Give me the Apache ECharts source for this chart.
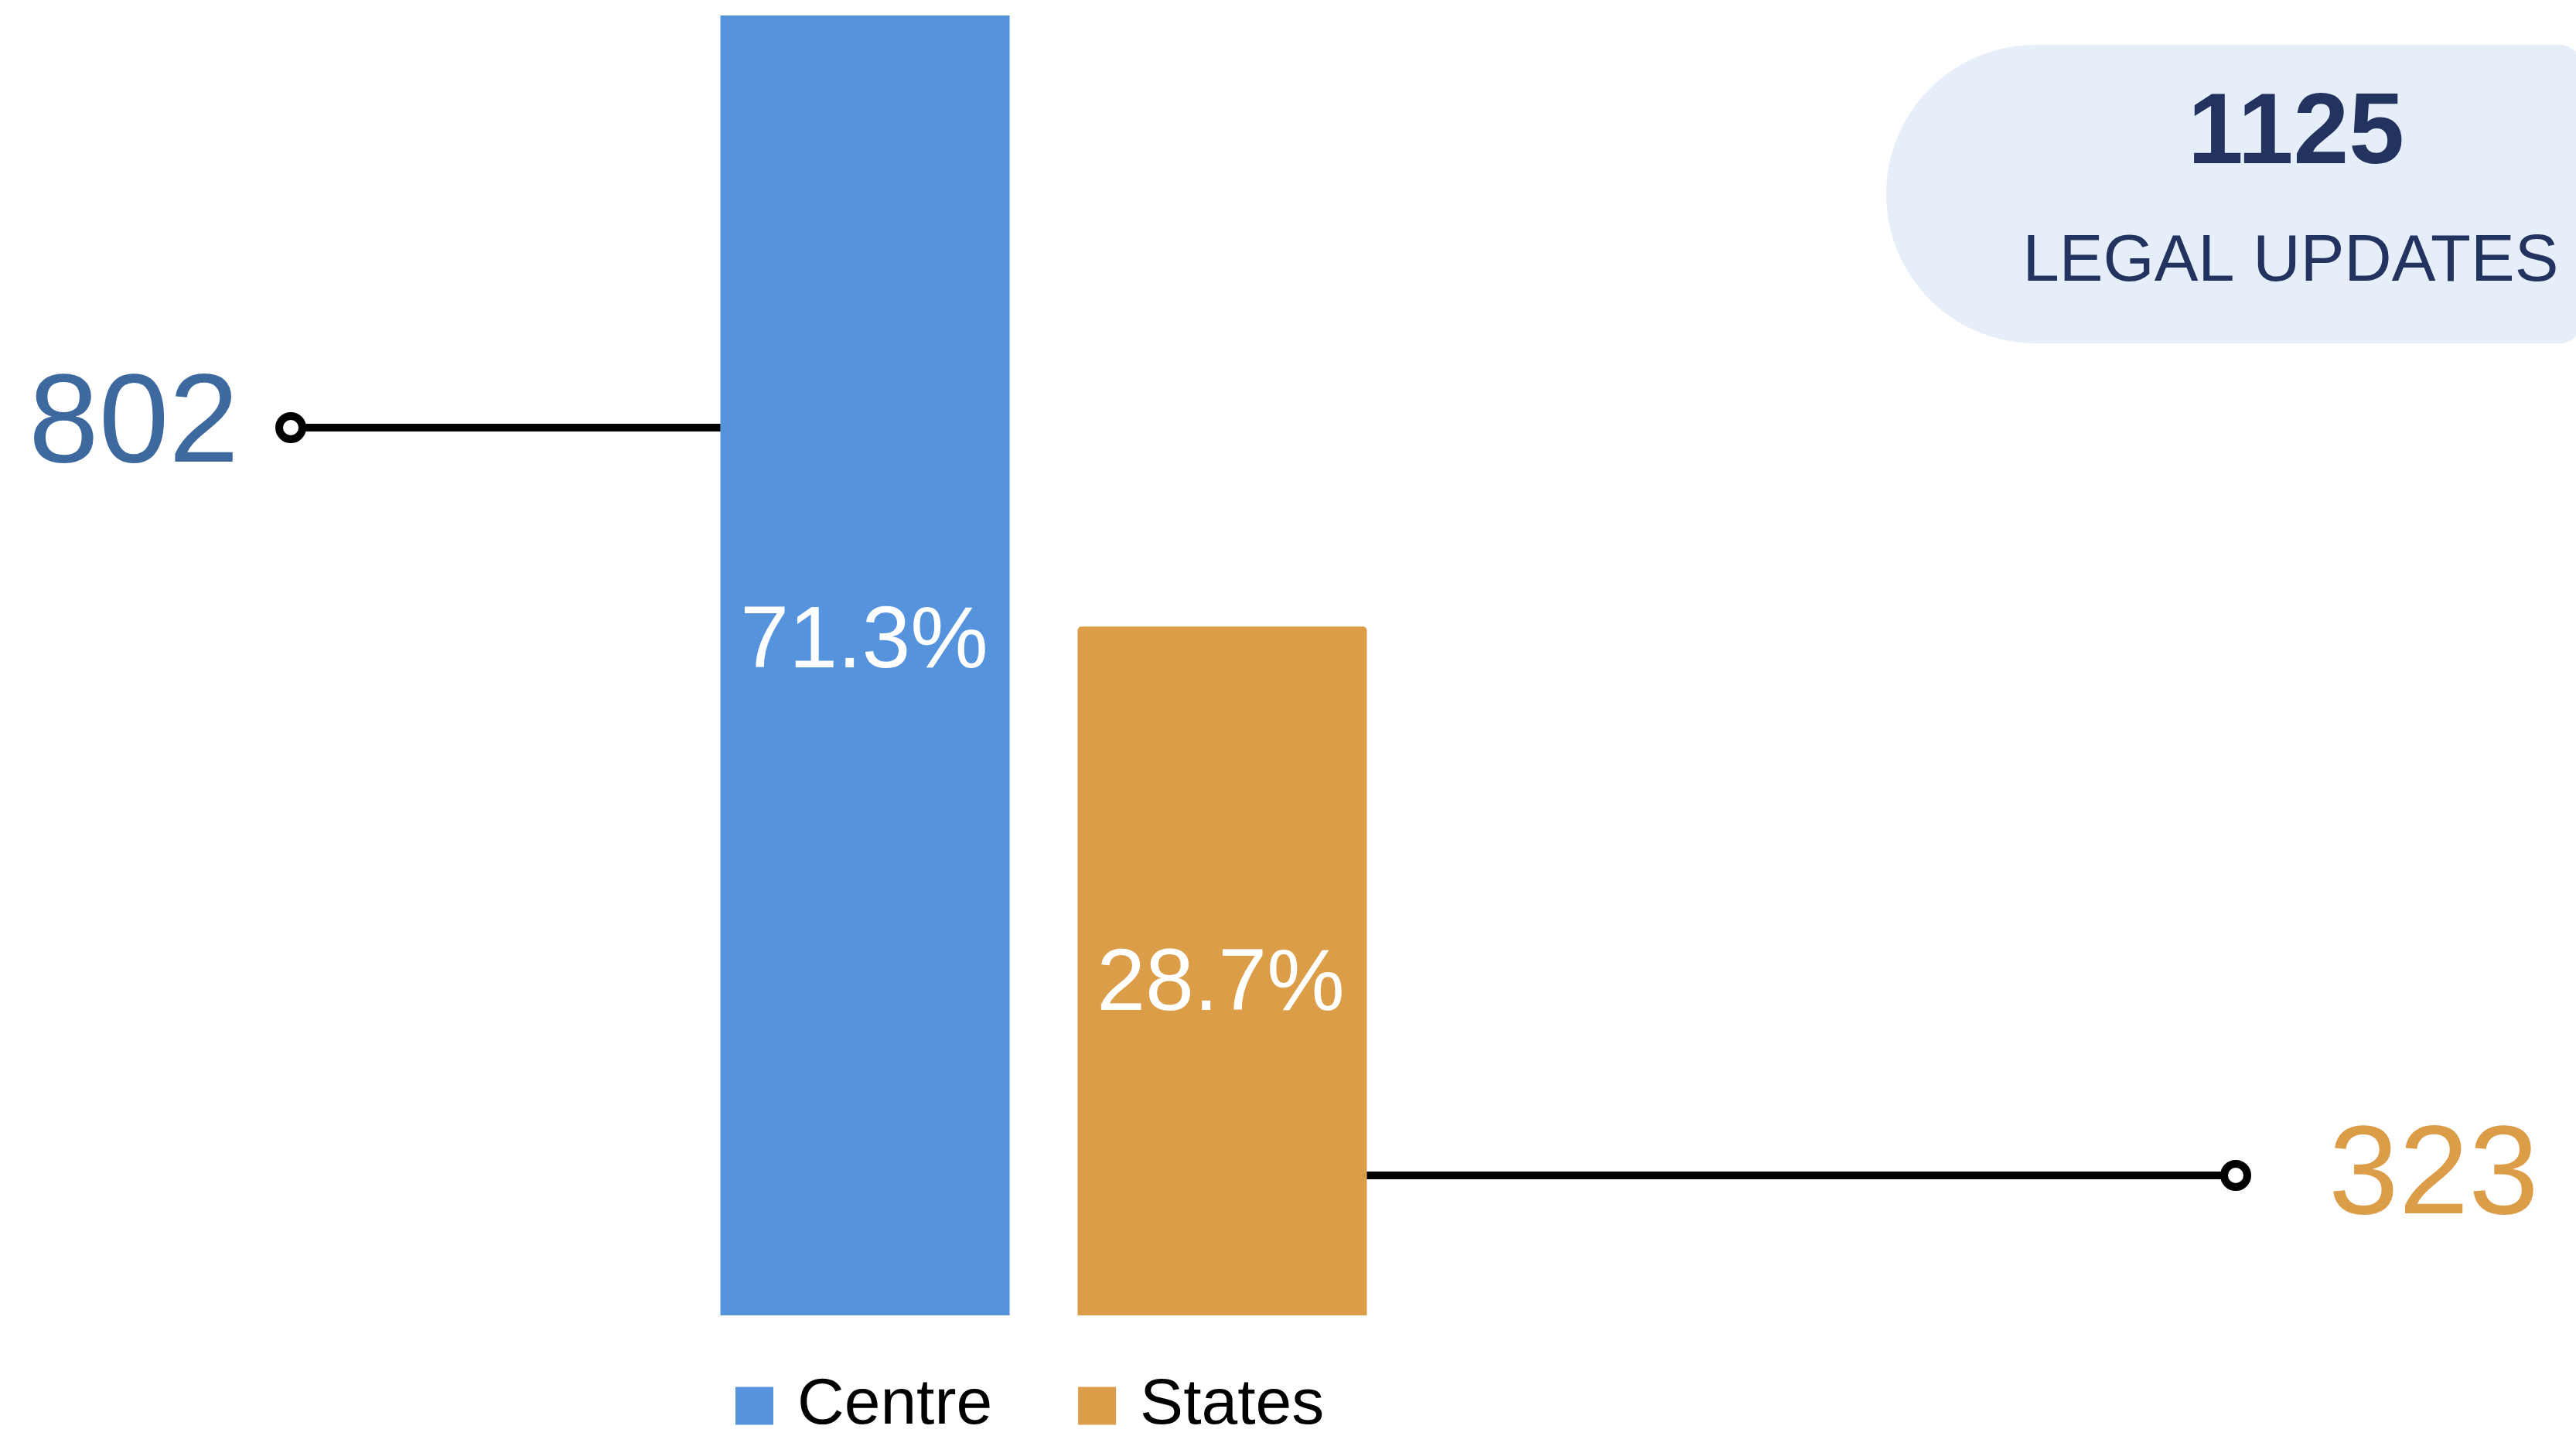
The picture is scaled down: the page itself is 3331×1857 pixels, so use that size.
<!DOCTYPE html>
<html>
<head>
<meta charset="utf-8">
<script src="https://cdn.jsdelivr.net/npm/echarts@6/dist/echarts.min.js"></script>
<style>
html,body{margin:0;padding:0;background:#fff;}
#chart{width:3331px;height:1857px;}
</style>
</head>
<body>
<div id="chart"></div>
<script>
// ---- data ----
const categories = ['Legal updates'];
const seriesNames = ['Centre', 'States'];
const centreValues = [802];
const statesValues = [323];
const summaryLabel = 'LEGAL UPDATES';

// ---- styles ----
const FONT = "'Liberation Sans', Arial, Helvetica, sans-serif";
const BLUE = '#5593DD';
const ORANGE = '#DB9D48';
const DARKBLUE = '#3D699E';
const NAVY = '#21335E';
const PILL = '#E6EEF9';

const total = centreValues[0] + statesValues[0];
const pct = v => (v / total * 100).toFixed(1) + '%';

const Y_MIN = -217;

const chart = echarts.init(document.getElementById('chart'), null, {renderer: 'canvas'});

const option = {
  backgroundColor: '#ffffff',
  animation: false,
  textStyle: {fontFamily: FONT},
  grid: {left: 0, right: 632, top: 20, bottom: 156, containLabel: false},
  xAxis: {type: 'category', data: categories, show: false},
  yAxis: {type: 'value', min: Y_MIN, max: 802, startValue: Y_MIN, show: false, splitLine: {show: false}},
  legend: {
    data: seriesNames,
    left: 946,
    top: 1771,
    icon: 'rect',
    itemWidth: 49,
    itemHeight: 49,
    itemGap: 111,
    textStyle: {fontSize: 84, color: '#000', fontFamily: FONT, lineHeight: 84, padding: [0, 0, 0, 26]}
  },
  series: [
    {
      name: seriesNames[0],
      type: 'bar',
      data: centreValues,
      barWidth: 374,
      barGap: '23.5%',
      itemStyle: {color: BLUE},
      label: {
        show: true, position: 'inside', offset: [-1, -29],
        formatter: p => pct(p.value),
        color: '#fff', fontSize: 113, fontFamily: FONT
      }
    },
    {
      name: seriesNames[1],
      type: 'bar',
      data: statesValues,
      barWidth: 374,
      barGap: '23.5%',
      itemStyle: {color: ORANGE, borderRadius: [5, 5, 0, 0]},
      label: {
        show: true, position: 'inside', offset: [-2, 19],
        formatter: p => pct(p.value),
        color: '#fff', fontSize: 113, fontFamily: FONT
      }
    }
  ]
};

chart.setOption(option);

function barLayout(idx) {
  try {
    const l = chart.getModel().getSeriesByIndex(idx).getData().getItemLayout(0);
    if (l && isFinite(l.x)) return {left: l.x, right: l.x + l.width};
  } catch (e) {}
  const c = chart.convertToPixel({xAxisIndex: 0}, 0);
  return idx === 0 ? {left: c - 418, right: c - 44} : {left: c + 44, right: c + 418};
}

const b0 = barLayout(0);
const b1 = barLayout(1);

const leftLineY = 553, leftDotX = 376;
const rightLineY = 1520, rightDotX = 2891;

chart.setOption({
  graphic: [
    {type: 'rect', z: 1, shape: {x: 2439, y: 58, width: 897, height: 386, r: [193, 25, 25, 193]}, style: {fill: PILL}},
    {type: 'text', z: 2, x: 2969, y: 175, style: {text: String(total), font: 'bold 129px ' + FONT, fill: NAVY, align: 'center', verticalAlign: 'middle'}},
    {type: 'text', z: 2, x: 2962, y: 340, style: {text: summaryLabel, font: '85px ' + FONT, fill: NAVY, align: 'center', verticalAlign: 'middle'}},
    {type: 'line', z: 3, shape: {x1: leftDotX, y1: leftLineY, x2: b0.left, y2: leftLineY}, style: {stroke: '#000', lineWidth: 10}},
    {type: 'circle', z: 4, shape: {cx: leftDotX, cy: leftLineY, r: 15}, style: {fill: '#fff', stroke: '#000', lineWidth: 10}},
    {type: 'line', z: 3, shape: {x1: b1.right, y1: rightLineY, x2: rightDotX, y2: rightLineY}, style: {stroke: '#000', lineWidth: 10}},
    {type: 'circle', z: 4, shape: {cx: rightDotX, cy: rightLineY, r: 15}, style: {fill: '#fff', stroke: '#000', lineWidth: 10}},
    {type: 'text', z: 2, x: 309, y: 552, style: {text: String(centreValues[0]), font: '163px ' + FONT, fill: DARKBLUE, align: 'right', verticalAlign: 'middle'}},
    {type: 'text', z: 2, x: 3011, y: 1524, style: {text: String(statesValues[0]), font: '163px ' + FONT, fill: ORANGE, align: 'left', verticalAlign: 'middle'}}
  ]
});
</script>
</body>
</html>
